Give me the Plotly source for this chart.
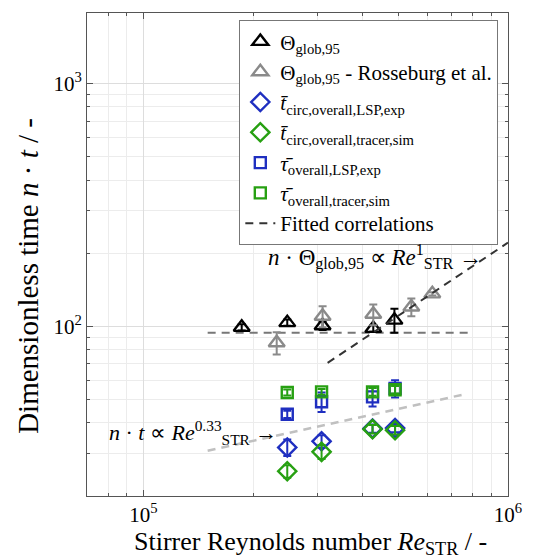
import numpy as np
import plotly.graph_objects as go

# ---- data ----
re_theta = [1.86e5, 2.48e5, 3.10e5, 4.27e5, 4.88e5]
theta = [99, 103.5, 100.5, 98, 106]
theta_err = [3, 3, 4, 3, 12]

re_ross = [2.32e5, 3.10e5, 4.27e5, 5.43e5, 6.2e5]
theta_ross = [85.5, 110, 112, 120, 136]
theta_ross_err = [9, 11, 11, 10, 2]

re_lsp = [2.48e5, 3.08e5, 4.25e5, 4.9e5]
tcirc_lsp = [31.7, 33.6, 37.9, 38.1]
tcirc_lsp_err = [2.5, 2, 1.5, 1.5]
tcirc_sim = [25.3, 30.4, 37.7, 37.3]
tcirc_sim_err = [1.5, 2, 1.5, 1.5]
tau_lsp = [43.4, 48.9, 51.2, 55.4]
tau_lsp_err = [1.5, 4.5, 4.5, 4.5]
tau_sim = [53.4, 53.7, 53.7, 54.8]
tau_sim_err = [1.5, 1.5, 2, 2]

fit_flat_re = [1.5e5, 8e5]
fit_flat_y = [94, 94]
fit_lin_re = [3.2e5, 1e6]
fit_lin_y = [70.7, 221]
fit_033_re = [1.5e5, 7.7e5]
fit_033_y = [30.7, 52.7]

x_ticks = [1e5, 1e6]
x_ticktext = ["10<sup>5</sup>", "10<sup>6</sup>"]
y_ticks = [1e2, 1e3]
y_ticktext = ["10<sup>2</sup>", "10<sup>3</sup>"]

FONT = "Liberation Serif"
BLACK = "#000000"
GRAY = "#8a8a8a"
BLUE = "#1f2fc0"
GREEN = "#27a012"

# plot-area geometry in pixels (for converting title positions to paper coords)
W, H = 534, 560
ML, MR, MT, MB = 87, 16, 12, 64
PW, PH = W - ML - MR, H - MT - MB

def paper_x(px):
    return (px - ML) / PW

def paper_y(py):
    return (H - MB - py) / PH

fig = go.Figure()

def pts(x, y, err, color, symbol, size, name):
    fig.add_trace(go.Scatter(
        x=x, y=y, mode="markers", name=name,
        marker=dict(symbol=symbol, size=size, color=color,
                    line=dict(color=color, width=2.4)),
        error_y=dict(type="data", array=err, color=color, thickness=2, width=4),
    ))

# fitted lines first (drawn below markers)
fig.add_trace(go.Scatter(x=fit_flat_re, y=fit_flat_y, mode="lines", showlegend=False,
                         line=dict(color="#777777", width=2, dash="8px,6px")))
fig.add_trace(go.Scatter(x=fit_033_re, y=fit_033_y, mode="lines", showlegend=False,
                         line=dict(color="#c0c0c0", width=2.5, dash="8px,6px")))

pts(re_theta, theta, theta_err, BLACK, "triangle-up-open", 14, "Θ<sub>glob,95</sub>")
pts(re_ross, theta_ross, theta_ross_err, GRAY, "triangle-up-open", 14,
    "Θ<sub>glob,95</sub> - Rosseburg et al.")
pts(re_lsp, tcirc_lsp, tcirc_lsp_err, BLUE, "diamond-open", 14,
    "<i>t̄</i><sub>circ,overall,LSP,exp</sub>")
pts(re_lsp, tcirc_sim, tcirc_sim_err, GREEN, "diamond-open", 14,
    "<i>t̄</i><sub>circ,overall,tracer,sim</sub>")
pts(re_lsp, tau_lsp, tau_lsp_err, BLUE, "square-open", 11,
    "<i>τ̄</i><sub>overall,LSP,exp</sub>")
pts(re_lsp, tau_sim, tau_sim_err, GREEN, "square-open", 11,
    "<i>τ̄</i><sub>overall,tracer,sim</sub>")

fig.add_trace(go.Scatter(x=fit_lin_re, y=fit_lin_y, mode="lines", name="Fitted correlations",
                         line=dict(color="#333333", width=2, dash="8px,6px")))

fig.add_annotation(x=np.log10(8.6e5), y=np.log10(192), xref="x", yref="y",
                   text="<i>n</i> · Θ<sub>glob,95</sub> ∝ <i>Re</i><sup>1</sup><sub>STR</sub> →",
                   showarrow=False, xanchor="right", yanchor="middle",
                   font=dict(family=FONT, size=23, color="black"))
fig.add_annotation(x=np.log10(2.35e5), y=np.log10(36.6), xref="x", yref="y",
                   text="<i>n</i> · <i>t</i> ∝ <i>Re</i><sup>0.33</sup><sub>STR</sub> →",
                   showarrow=False, xanchor="right", yanchor="middle",
                   font=dict(family=FONT, size=22, color="black"))

# axis titles as annotations (positioned like the reference)
fig.add_annotation(x=paper_x(316), y=paper_y(543), xref="paper", yref="paper",
                   text="Stirrer Reynolds number <i>Re</i><sub>STR</sub> / -",
                   showarrow=False, xanchor="center", yanchor="middle",
                   font=dict(family=FONT, size=26, color="black"))
fig.add_annotation(x=paper_x(27), y=paper_y(275), xref="paper", yref="paper",
                   text="Dimensionless time <i>n</i> · <i>t</i> / -", textangle=-90,
                   showarrow=False, xanchor="center", yanchor="middle",
                   font=dict(family=FONT, size=29, color="black"))

x_minor = [v * 10**k for k in (4, 5) for v in range(2, 10)]
y_minor = [v * 10**k for k in (1, 2, 3) for v in range(2, 10)]

axis_common = dict(
    type="log", showline=True, linecolor="#555555", linewidth=1, mirror="ticks",
    ticks="inside", ticklen=6, tickcolor="#555555",
    showgrid=True, gridcolor="#dddddd", gridwidth=1, zeroline=False,
    tickfont=dict(family=FONT, size=21, color="black"),
)

fig.update_xaxes(
    **axis_common, range=[np.log10(7e4), 6], tickmode="array",
    tickvals=x_ticks, ticktext=x_ticktext, ticklabelstandoff=0,
    minor=dict(tickmode="array", tickvals=x_minor, showgrid=True, gridcolor="#ececec",
               ticks="inside", ticklen=3, tickcolor="#555555"),
)
fig.update_yaxes(
    **axis_common, range=[np.log10(20), np.log10(1950)], tickmode="array",
    tickvals=y_ticks, ticktext=y_ticktext,
    minor=dict(tickmode="array", tickvals=y_minor, showgrid=True, gridcolor="#ececec",
               ticks="inside", ticklen=3, tickcolor="#555555"),
)

fig.update_layout(
    width=W, height=H,
    margin=dict(l=ML, r=MR, t=MT, b=MB),
    paper_bgcolor="white", plot_bgcolor="white",
    legend=dict(x=0.977, y=0.985, xanchor="right", yanchor="top",
                bgcolor="white", bordercolor="#777777", borderwidth=1,
                font=dict(family=FONT, size=21, color="black"),
                tracegroupgap=0, itemwidth=30),
)

fig.write_html("out.html")
